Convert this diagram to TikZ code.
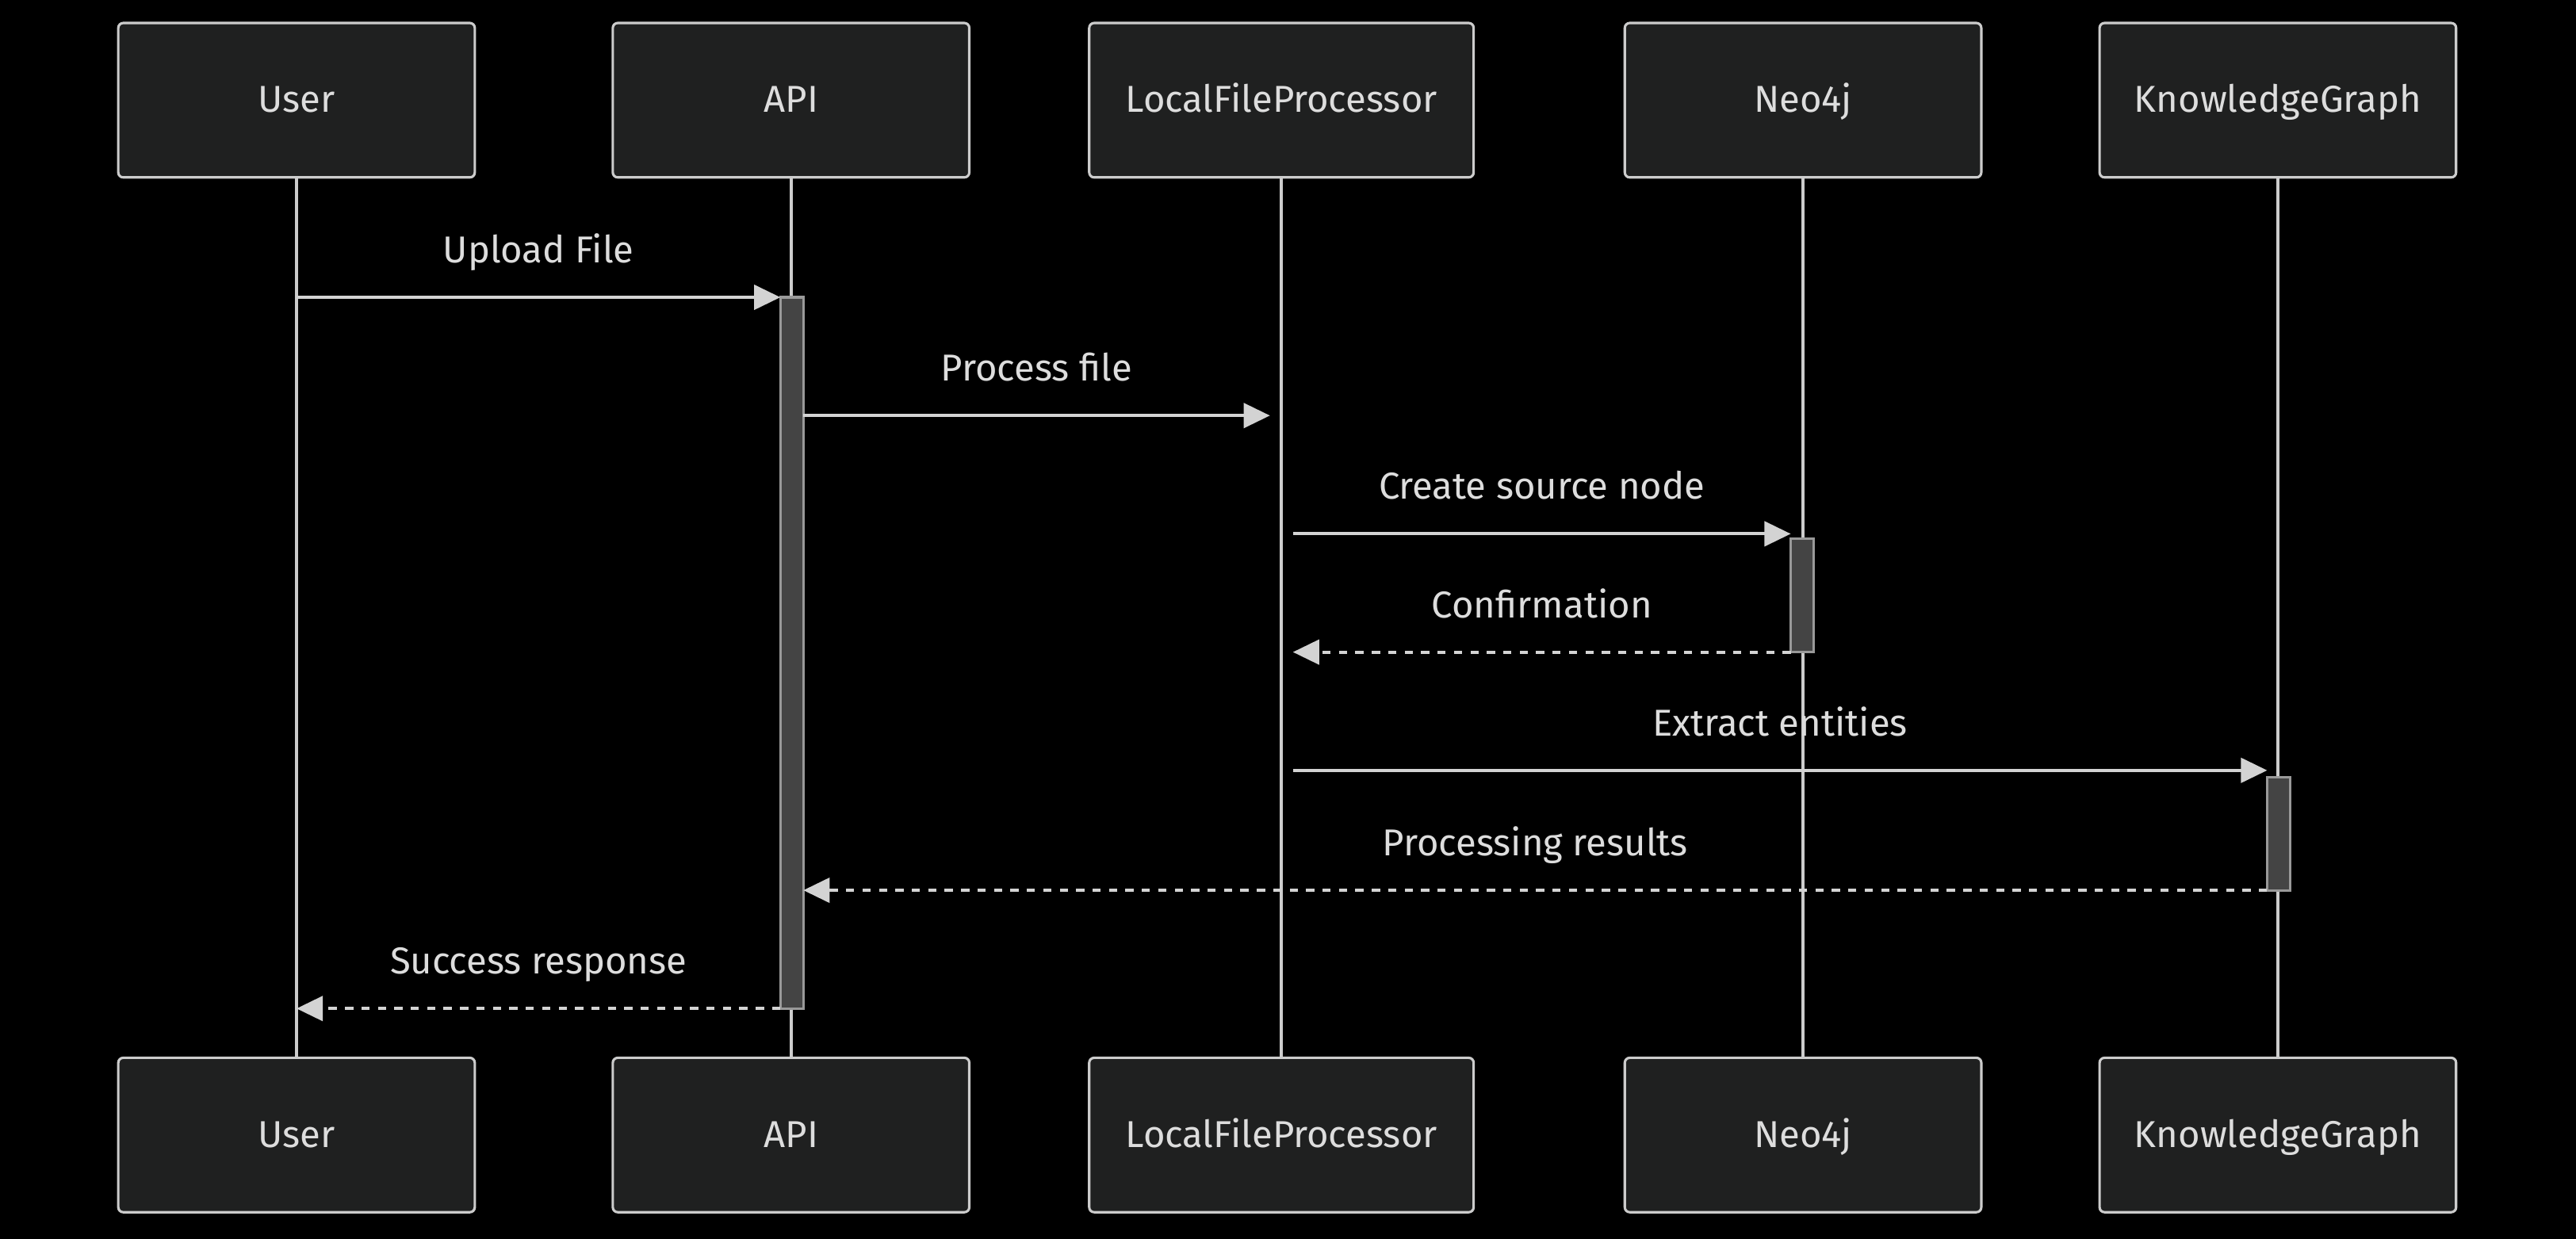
\documentclass[tikz,border=0pt]{standalone}
\usepackage{fontspec}
\setmainfont{Fira Sans}
\usetikzlibrary{arrows.meta}
\definecolor{boxfill}{HTML}{1F2020}
\definecolor{boxline}{HTML}{CCCCCC}
\definecolor{txt}{HTML}{DDDDDD}
\definecolor{wire}{HTML}{D3D3D3}
\definecolor{actfill}{HTML}{444444}
\definecolor{actline}{HTML}{999999}
\tikzset{
  actor/.style={draw=boxline, fill=boxfill, line width=1.5pt, rounded corners=3pt,
    minimum height=94pt, text=txt, font=\fontsize{22.8}{26}\selectfont,
    text height=15pt, text depth=0pt},
  life/.style={draw=boxline, line width=1.8pt},
  act/.style={draw=actline, fill=actfill, line width=1.5pt},
  msg/.style={draw=wire, line width=2pt, -{Triangle[length=16pt,width=15pt]}},
  reply/.style={msg, dash pattern=on 5pt off 5pt},
  lbl/.style={text=txt, font=\fontsize{22.8}{26}\selectfont, anchor=base, yshift=21pt}
}
\begin{document}
\begin{tikzpicture}[x=1pt,y=-1pt]
  \fill[black] (0,0) rectangle (1568,754.3);
  \useasboundingbox (0,0) rectangle (1568,754.3);
  \def\ty{61}
  \def\by{691}
  % participants
  \node[actor, minimum width=217pt] (A0_0) at (180.5,\ty) {User};
  \node[actor, minimum width=217pt] (A0_1) at (481.5,\ty) {API};
  \node[actor, minimum width=234pt] (A0_2) at (780,\ty) {LocalFileProcessor};
  \node[actor, minimum width=217pt] (A0_3) at (1097.5,\ty) {Neo4j};
  \node[actor, minimum width=217pt] (A0_4) at (1386.5,\ty) {KnowledgeGraph};
  \node[actor, minimum width=217pt] (A1_0) at (180.5,\by) {User};
  \node[actor, minimum width=217pt] (A1_1) at (481.5,\by) {API};
  \node[actor, minimum width=234pt] (A1_2) at (780,\by) {LocalFileProcessor};
  \node[actor, minimum width=217pt] (A1_3) at (1097.5,\by) {Neo4j};
  \node[actor, minimum width=217pt] (A1_4) at (1386.5,\by) {KnowledgeGraph};
  % lifelines
  \path (A0_0) edge [life] (A1_0);
  \path (A0_1) edge [life] (A1_1);
  \path (A0_2) edge [life] (A1_2);
  \path (A0_3) edge [life] (A1_3);
  \path (A0_4) edge [life] (A1_4);
  % activations
  \draw[act] (475,181) rectangle (489,614);
  \draw[act] (1090,328) rectangle (1104,397);
  \draw[act] (1380,473) rectangle (1394,542);
  % message ends
  \coordinate (M0_0) at (180.5,181);  \coordinate (M0_1) at (475,181);
  \coordinate (M1_0) at (489,253);    \coordinate (M1_1) at (773,253);
  \coordinate (M2_0) at (787,325);    \coordinate (M2_1) at (1090,325);
  \coordinate (M3_0) at (1090,397);   \coordinate (M3_1) at (787,397);
  \coordinate (M4_0) at (787,469);    \coordinate (M4_1) at (1380,469);
  \coordinate (M5_0) at (1380,542);   \coordinate (M5_1) at (489,542);
  \coordinate (M6_0) at (475,614);    \coordinate (M6_1) at (180.5,614);
  \path (M0_0) edge [msg] node [lbl] {Upload File} (M0_1);
  \path (M1_0) edge [msg] node [lbl] {Process file} (M1_1);
  \path (M2_0) edge [msg] node [lbl] {Create source node} (M2_1);
  \path (M3_0) edge [reply] node [lbl] {Confirmation} (M3_1);
  \path (M4_0) edge [msg] node [lbl] {Extract entities} (M4_1);
  \path (M5_0) edge [reply] node [lbl] {Processing results} (M5_1);
  \path (M6_0) edge [reply] node [lbl] {Success response} (M6_1);
\end{tikzpicture}
\end{document}
